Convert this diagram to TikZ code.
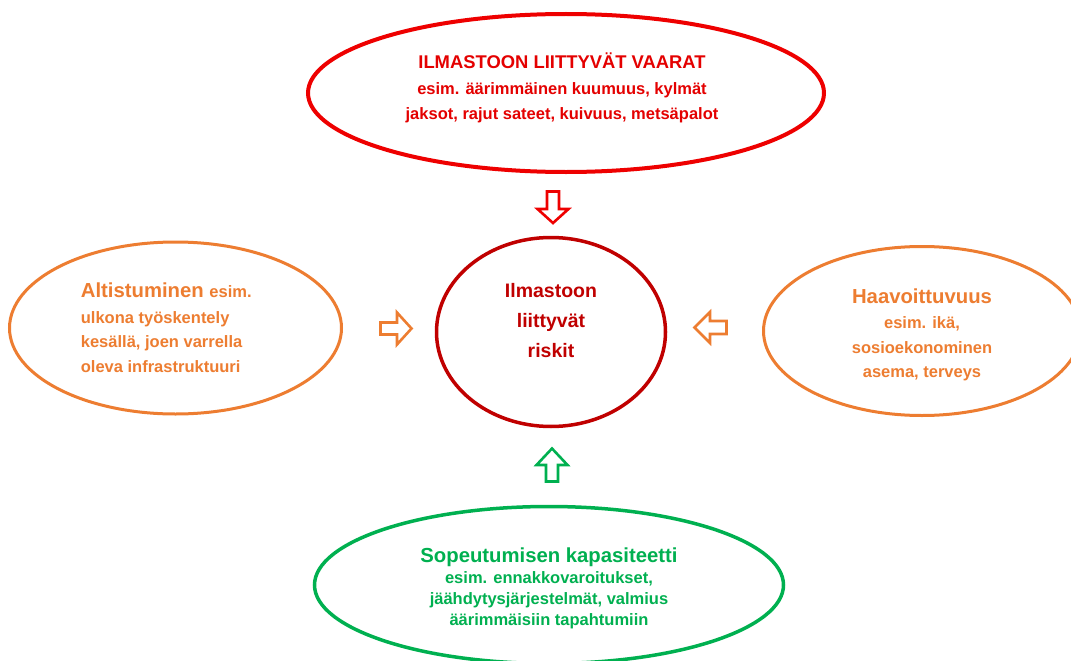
\documentclass[tikz,border=0pt]{standalone}
\usepackage{fontspec}
\setmainfont{Liberation Sans}
\usetikzlibrary{shapes.geometric}
\definecolor{hazred}{RGB}{238,0,0}
\definecolor{hazredtext}{RGB}{228,0,0}
\definecolor{riskred}{RGB}{192,0,0}
\definecolor{expor}{RGB}{237,125,49}
\definecolor{adgreen}{RGB}{0,176,80}
\tikzset{
  oval/.style={ellipse, draw, fill=white, inner sep=0pt},
  blockarrow/.style={draw, fill=white, line width=2.6pt, line join=miter},
  txt/.style={inner sep=0pt, anchor=base, font=\bfseries\fontsize{16.5}{18}\selectfont},
  bigtxt/.style={inner sep=0pt, anchor=base, font=\bfseries\fontsize{20.3}{22}\selectfont},
}
\begin{document}
\begin{tikzpicture}[x=1pt,y=-1pt]
\useasboundingbox (0,0) rectangle (1071,661);
% ovals
\node[oval, draw=hazred, line width=4pt, minimum width=516pt, minimum height=158pt] (haz) at (566,93) {};
\node[oval, draw=expor, line width=3pt, minimum width=332pt, minimum height=172pt] (exp) at (175.5,328) {};
\node[oval, draw=riskred, line width=3.5pt, minimum width=229pt, minimum height=189pt] (risk) at (551,332) {};
\node[oval, draw=expor, line width=3pt, minimum width=317pt, minimum height=169pt] (vul) at (922,331) {};
\node[oval, draw=adgreen, line width=3.5pt, minimum width=469pt, minimum height=157pt] (ada) at (549,585) {};
% block arrows
\draw[blockarrow, draw=hazred] (547,191.5) -- (559,191.5) -- (559,209) -- (568.5,209) -- (553,223) -- (537.5,209) -- (547,209) -- cycle;
\draw[blockarrow, draw=adgreen] (546,481.5) -- (558,481.5) -- (558,465) -- (567.5,465) -- (552,448.5) -- (536.5,465) -- (546,465) -- cycle;
\draw[blockarrow, draw=expor] (380.5,322.5) -- (397,322.5) -- (397,312.5) -- (411.5,328.5) -- (397,344.5) -- (397,334.5) -- (380.5,334.5) -- cycle;
\draw[blockarrow, draw=expor] (726.5,321) -- (710,321) -- (710,312) -- (694.5,327.5) -- (710,343) -- (710,334) -- (726.5,334) -- cycle;
% texts: hazards
\node[txt, text=hazredtext, font=\bfseries\fontsize{18.4}{20}\selectfont] (h1) at (562,69) {ILMASTOON LIITTYVÄT VAARAT};
\node[txt, text=hazredtext] (h2) at (562,95) {esim. äärimmäinen kuumuus, kylmät};
\node[txt, text=hazredtext] (h3) at (562,119) {jaksot, rajut sateet, kuivuus, metsäpalot};
% exposure
\node[bigtxt, text=expor, anchor=base west] (e1) at (80.7,297) {Altistuminen {\fontsize{16.5}{18}\selectfont esim.}};
\node[txt, text=expor, anchor=base west] (e2) at (80.7,323) {ulkona työskentely};
\node[txt, text=expor, anchor=base west] (e3) at (80.7,347) {kesällä, joen varrella};
\node[txt, text=expor, anchor=base west] (e4) at (80.7,372) {oleva infrastruktuuri};
% risk
\node[txt, text=riskred, font=\bfseries\fontsize{19.5}{21}\selectfont] (r1) at (551,297) {Ilmastoon};
\node[txt, text=riskred, font=\bfseries\fontsize{19.5}{21}\selectfont] (r2) at (551,327) {liittyvät};
\node[txt, text=riskred, font=\bfseries\fontsize{19.5}{21}\selectfont] (r3) at (551,357) {riskit};
% vulnerability
\node[bigtxt, text=expor] (v1) at (922,303) {Haavoittuvuus};
\node[txt, text=expor] (v2) at (922,328) {esim. ikä,};
\node[txt, text=expor] (v3) at (922,353) {sosioekonominen};
\node[txt, text=expor] (v4) at (922,377) {asema, terveys};
% adaptive capacity
\node[bigtxt, text=adgreen] (a1) at (549,562) {Sopeutumisen kapasiteetti};
\node[txt, text=adgreen] (a2) at (549,583) {esim. ennakkovaroitukset,};
\node[txt, text=adgreen] (a3) at (549,604) {jäähdytysjärjestelmät, valmius};
\node[txt, text=adgreen] (a4) at (549,625) {äärimmäisiin tapahtumiin};
\end{tikzpicture}
\end{document}
